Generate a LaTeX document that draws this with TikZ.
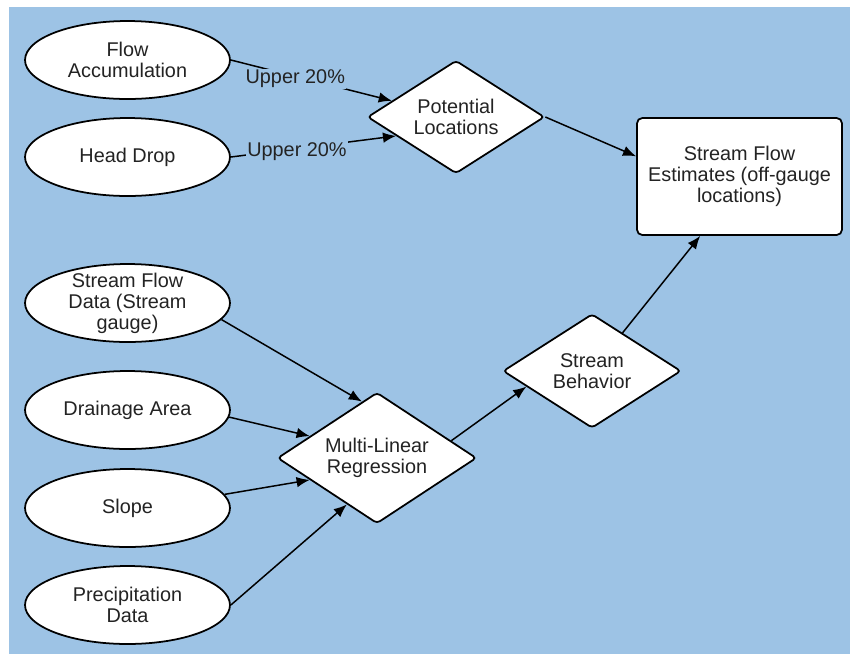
\documentclass[tikz,border=0pt]{standalone}
\usepackage{fontspec}
\setmainfont{Liberation Sans}
\usetikzlibrary{shapes.geometric,arrows.meta,calc}
\definecolor{bgblue}{RGB}{157,195,229}
\definecolor{txtgray}{RGB}{35,35,35}

\begin{document}
\begin{tikzpicture}[x=0.02cm,y=-0.02cm,
  font=\fontsize{11.3}{12}\selectfont,
  oval/.style={ellipse,draw,fill=white,line width=1pt,minimum width=4.1cm,minimum height=1.56cm,inner sep=0pt,align=center,text=txtgray},
  decision/.style={diamond,draw,fill=white,line width=1pt,rounded corners=2pt,aspect=1.55,inner sep=0pt,align=center,text=txtgray},
  result/.style={rectangle,draw,fill=white,line width=1pt,rounded corners=3pt,minimum width=4.1cm,minimum height=2.34cm,inner sep=2pt,align=center,text=txtgray},
  flow/.style={line width=0.85pt,-{Latex[length=7.5pt,width=6pt]}},
  cut/.style={fill=bgblue,inner sep=0.5pt,text=txtgray,yshift=-1.5pt}]
\useasboundingbox (0,0) rectangle (850,654);
\fill[bgblue] (9,7) rectangle (850,654);

\node[oval] (fa) at (127.5,60) {Flow\\Accumulation};
\node[oval] (hd) at (127.5,157) {Head Drop};
\node[oval,inner ysep=-4pt] (sfd) at (127.5,303) {Stream Flow\\Data (Stream\\gauge)};
\node[oval] (da) at (127.5,410) {Drainage Area};
\node[oval] (sl) at (127.5,508) {Slope};
\node[oval] (pd) at (127.5,605) {Precipitation\\Data};

\node[decision,minimum width=3.54cm,minimum height=2.26cm] (pl) at (456,117) {Potential\\Locations};
\node[decision,minimum width=3.98cm,minimum height=2.62cm] (mlr) at (377,458) {Multi-Linear\\Regression};
\node[decision,minimum width=3.56cm,minimum height=2.28cm] (sb) at (592,371) {Stream\\Behavior};
\node[result] (sfe) at (739.5,176.5) {Stream Flow\\Estimates (off-gauge\\locations)};

\draw[flow] (fa.east) -- (pl) node[cut,pos=0.4] {Upper 20\%};
\draw[flow] (hd.east) -- ($(pl.west)!0.33!(pl.south)$) node[cut,pos=0.4] {Upper 20\%};
\draw[flow] (pl.east) -- ($(sfe.north west)!0.33!(sfe.south west)$);

\draw[flow] (sfd.-10) -- ($(mlr.west)!0.85!(mlr.north)$);
\draw[flow] (da.-4) -- ($(mlr.west)!0.33!(mlr.north)$);
\draw[flow] (sl.8) -- ($(mlr.west)!0.33!(mlr.south)$);
\draw[flow] (pd.east) -- ($(mlr.west)!0.7!(mlr.south)$);

\draw[flow] ($(mlr.north)!0.74!(mlr.east)$) -- ($(sb.west)!0.27!(sb.south)$);
\draw[flow] (sb) -- ($(sfe.south west)!0.31!(sfe.south east)$);
\end{tikzpicture}
\end{document}
